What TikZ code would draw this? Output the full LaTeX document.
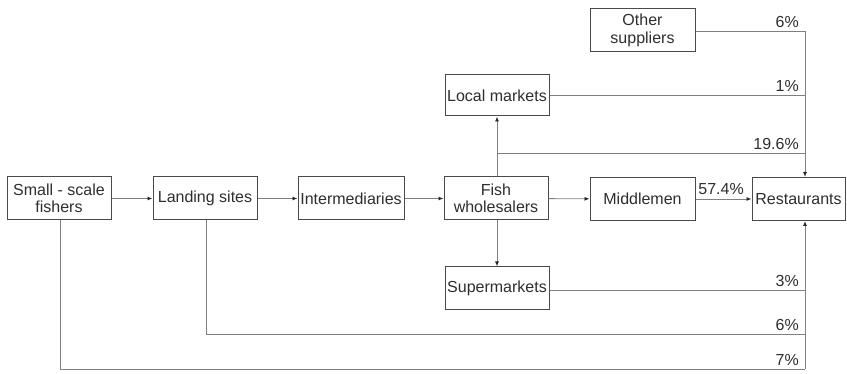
\documentclass[tikz,border=0pt]{standalone}
\usepackage{fontspec}
\setmainfont{Liberation Sans}
\usetikzlibrary{arrows.meta}
\definecolor{boxc}{HTML}{4A4A4A}
\definecolor{linec}{HTML}{808080}
\definecolor{txtc}{HTML}{2E2E2E}
\begin{document}
\begin{tikzpicture}[x=1pt,y=-1pt,
  box/.style={draw=boxc,line width=1pt,fill=white,text=txtc,minimum width=104pt,minimum height=43pt,inner sep=1pt,align=center,font=\fontsize{16}{17.5}\selectfont},
  conn/.style={draw=linec,line width=0.9pt},
  arr/.style={conn,-{Latex[length=5pt,width=4pt,color=black!85]}},
  pct/.style={anchor=south east,text=txtc,inner sep=0pt,font=\fontsize{16}{17.5}\selectfont}]
\useasboundingbox (0,0) rectangle (847,374);
\node[box] (fish) at (59,198.5) {Small - scale\\fishers};
\node[box] (land) at (205,198.5) {Landing sites};
\node[box,minimum width=106pt] (inter) at (351,198.5) {Intermediaries};
\node[box] (whole) at (496,198.5) {Fish\\wholesalers};
\node[box,minimum width=105pt] (mid) at (642.5,199) {Middlemen};
\node[box,minimum width=93pt] (rest) at (798.5,199) {Restaurants};
\node[box,minimum width=105pt] (other) at (642.5,30.5) {Other\\suppliers};
\node[box,minimum height=41pt] (local) at (497,95.5) {Local markets};
\node[box] (super) at (497,288.5) {Supermarkets};
\coordinate (rtop) at (805,177);
\coordinate (rbot) at (805,221);
\coordinate (b1) at (497,153);
\coordinate (o1) at (805,31);
\coordinate (l1) at (805,95.5);
\coordinate (w1) at (805,153);
\coordinate (s1) at (805,290);
\coordinate (ld1) at (206,334);
\coordinate (ld2) at (805,334);
\coordinate (f1) at (60,369);
\coordinate (f2) at (805,369);
\draw[arr] (fish) -- (land);
\draw[arr] (land) -- (inter);
\draw[arr] (inter) -- (whole);
\draw[arr] (whole) -- (mid);
\draw[arr] (mid) -- (rest);
\draw[arr] (whole.north -| b1) -- (local.south -| b1);
\draw[arr] (whole.south -| b1) -- (super.north -| b1);
\draw[conn] (b1) -- (w1);
\draw[arr] (other.east |- o1) -- (o1) -- (rtop);
\draw[conn] (local.east) -- (l1);
\draw[conn] (super.east |- s1) -- (s1);
\draw[conn] (land.south -| ld1) -- (ld1) -- (ld2);
\draw[conn] (fish.south -| f1) -- (f1) -- (f2);
\draw[arr] (f2) -- (rbot);
\node[pct] at (799,28) {6\%};
\node[pct] at (799,92) {1\%};
\node[pct] at (799,150) {19.6\%};
\node[pct] at (744,195) {57.4\%};
\node[pct] at (799,287) {3\%};
\node[pct] at (799,331) {6\%};
\node[pct] at (799,366) {7\%};
\end{tikzpicture}
\end{document}
